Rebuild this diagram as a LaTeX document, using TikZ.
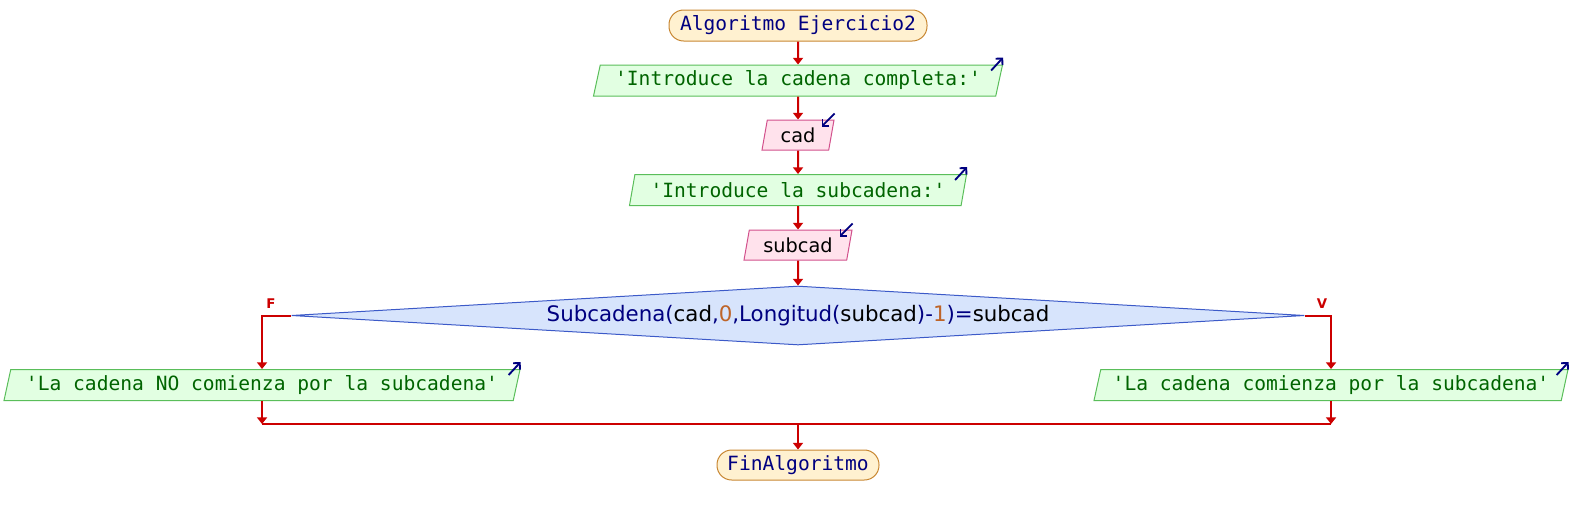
\documentclass[tikz,border=0pt]{standalone}
\usepackage{fontspec}
\setmainfont{DejaVu Sans}
\setsansfont{DejaVu Sans}
\setmonofont{DejaVu Sans Mono}
\usetikzlibrary{shapes.geometric,arrows.meta}
\definecolor{navy}{RGB}{0,0,128}
\definecolor{termfill}{RGB}{255,241,208}
\definecolor{termdraw}{RGB}{200,135,50}
\definecolor{outfill}{RGB}{226,255,226}
\definecolor{outdraw}{RGB}{90,190,90}
\definecolor{outtext}{RGB}{0,100,0}
\definecolor{infill}{RGB}{255,226,236}
\definecolor{indraw}{RGB}{210,80,140}
\definecolor{condfill}{RGB}{215,228,252}
\definecolor{conddraw}{RGB}{60,90,200}
\definecolor{flowred}{RGB}{204,0,0}
\definecolor{numc}{RGB}{190,100,40}
\begin{document}
\begin{tikzpicture}[x=0.75pt,y=-0.75pt,
  term/.style={draw=termdraw, fill=termfill, line width=0.75pt, rounded corners=11pt,
    minimum height=23.25pt, inner sep=0pt, text=navy,
    font=\ttfamily\fontsize{14.7}{16}\selectfont},
  outbox/.style={trapezium, trapezium left angle=70.5, trapezium right angle=109.5,
    trapezium stretches body, draw=outdraw, fill=outfill, line width=0.75pt,
    inner sep=0pt, minimum height=23.25pt, text=outtext,
    font=\ttfamily\fontsize{14.7}{16}\selectfont},
  inbox/.style={trapezium, trapezium left angle=70.5, trapezium right angle=109.5,
    trapezium stretches body, draw=indraw, fill=infill, line width=0.75pt,
    inner sep=0pt, minimum height=22.5pt, text=black,
    font=\sffamily\fontsize{14.5}{16}\selectfont},
  cond/.style={diamond, aspect=17, draw=conddraw, fill=condfill, line width=0.75pt,
    inner sep=0pt, minimum width=759.75pt, minimum height=44.25pt, text=navy,
    font=\sffamily\fontsize{16}{18}\selectfont},
  flow/.style={draw=flowred, line width=1.5pt, -{Triangle[width=7.5pt,length=5pt]}},
  plain/.style={draw=flowred, line width=1.5pt},
  icon/.style={draw=navy, line width=1.4pt, -{Straight Barb[length=3.5pt,width=7pt]}},
  lbl/.style={text=flowred, font=\sffamily\bfseries\fontsize{10}{11}\selectfont, inner sep=0pt}
]
\useasboundingbox (0,0) rectangle (1578,515);

\node[term, minimum width=193.5pt] (start) at (798,25.5) {Algoritmo Ejercicio2};
\node[outbox, minimum width=306.75pt] (out1) at (798,80.5) {'Introduce la cadena completa:'};
\node[inbox, minimum width=54pt] (in1) at (798,135) {cad};
\node[outbox, minimum width=252.75pt] (out2) at (798,190) {'Introduce la subcadena:'};
\node[inbox, minimum width=81pt] (in2) at (798,245) {subcad};
\node[cond] (c) at (798,315.5) {Subcadena(\textcolor{black}{cad},\textcolor{numc}{0},Longitud(\textcolor{black}{subcad})-\textcolor{numc}{1})=\textcolor{black}{subcad}};
\node[outbox, minimum width=387pt] (outL) at (262,385) {'La cadena NO comienza por la subcadena'};
\node[outbox, minimum width=355.5pt] (outR) at (1331,385) {'La cadena comienza por la subcadena'};
\node[term, minimum width=121.5pt, minimum height=22.5pt] (end) at (798,465) {FinAlgoritmo};

\coordinate (m) at (798,424);

\draw[flow] (start) -- (out1);
\draw[flow] (out1) -- (in1);
\draw[flow] (in1) -- (out2);
\draw[flow] (out2) -- (in2);
\draw[flow] (in2) -- (c);
\draw[flow] (c.west) -| (outL.north);
\draw[flow] (c.east) -| (outR.north);
\draw[flow] (outL.south) -- (outL.south |- m);
\draw[flow] (outR.south) -- (outR.south |- m);
\draw[plain] (outL.south |- m) -- (outR.south |- m);
\draw[flow] (m) -- (end);

\node[lbl] (lf) at (271,304) {F};
\node[lbl] (lv) at (1322,304) {V};

\draw[icon] ([shift={(-12,6)}]out1.top right corner) -- ([shift={(0,-7)}]out1.top right corner);
\draw[icon] ([shift={(-12,6)}]out2.top right corner) -- ([shift={(0,-7)}]out2.top right corner);
\draw[icon] ([shift={(-12,6)}]outL.top right corner) -- ([shift={(0,-7)}]outL.top right corner);
\draw[icon] ([shift={(-12,6)}]outR.top right corner) -- ([shift={(0,-7)}]outR.top right corner);
\draw[icon] ([shift={(0,-6)}]in1.top right corner) -- ([shift={(-13,7)}]in1.top right corner);
\draw[icon] ([shift={(0,-6)}]in2.top right corner) -- ([shift={(-13,7)}]in2.top right corner);
\end{tikzpicture}
\end{document}
